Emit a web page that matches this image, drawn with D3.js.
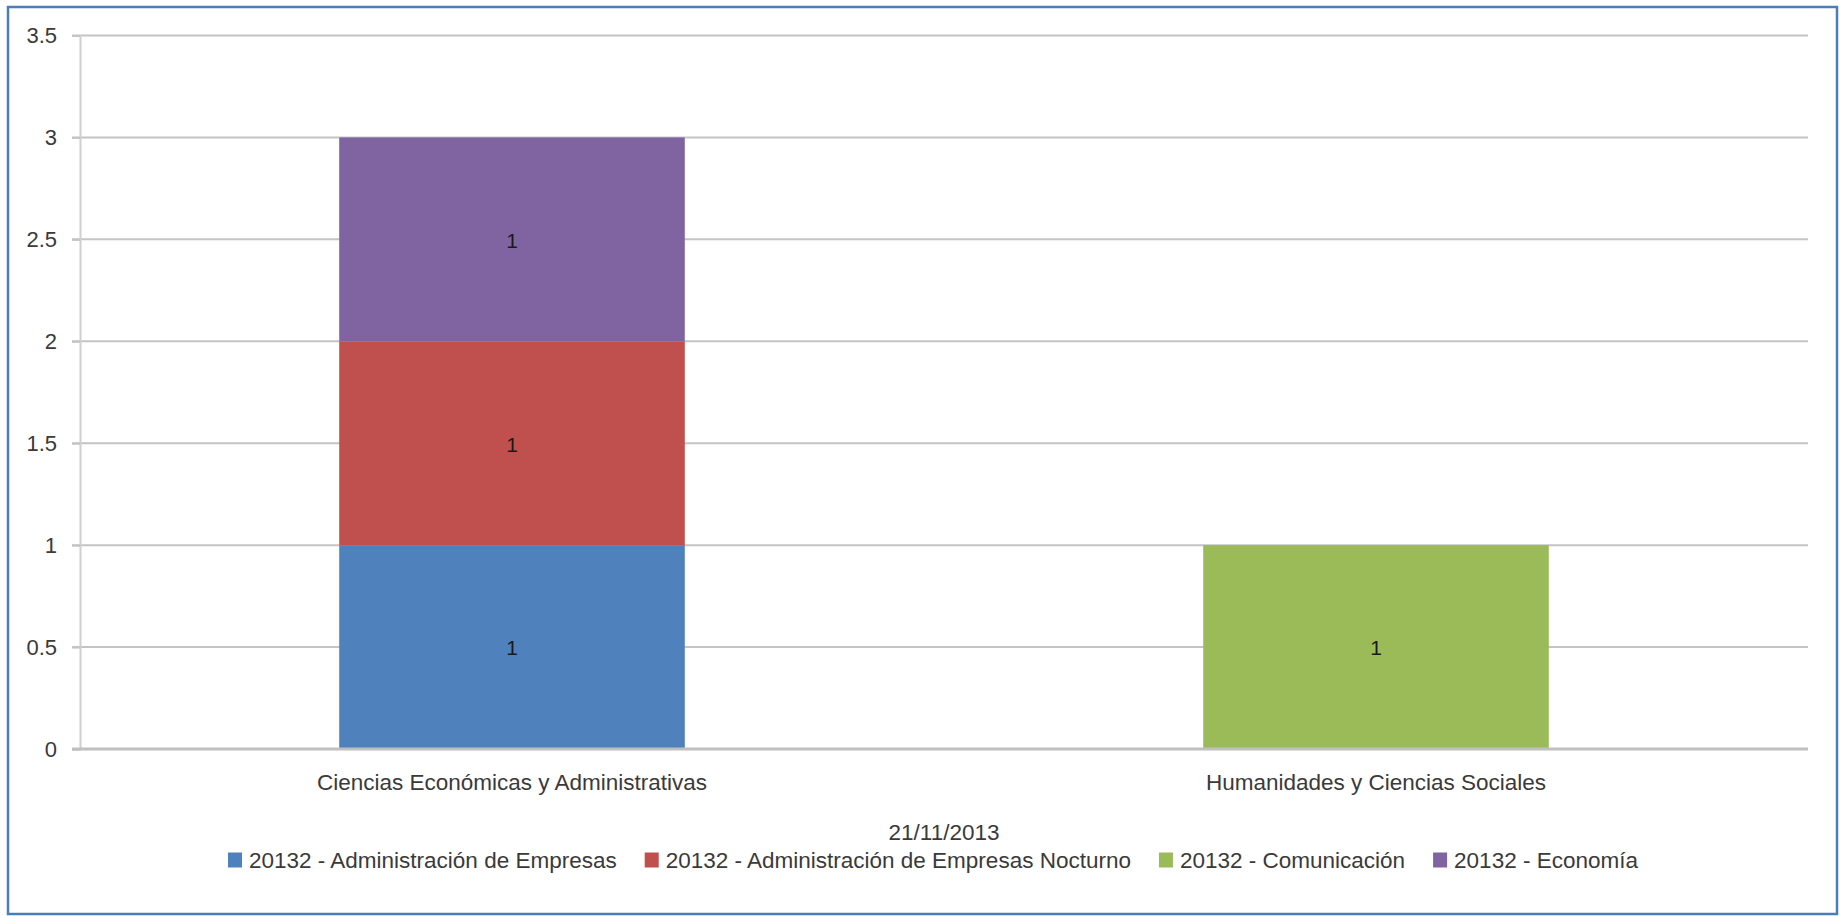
<!DOCTYPE html>
<html>
<head>
<meta charset="utf-8">
<script src="https://cdn.jsdelivr.net/npm/d3@7"></script>
<style>
  body { margin: 0; background: #fff; }
  text { font-family: "Liberation Sans", Arial, sans-serif; }
</style>
</head>
<body>
<div id="chart"></div>
<script>
// datos
const categories = ["Ciencias Económicas y Administrativas", "Humanidades y Ciencias Sociales"];
const seriesNames = [
  "20132 - Administración de Empresas",
  "20132 - Administración de Empresas Nocturno",
  "20132 - Comunicación",
  "20132 - Economía"
];
const adminEmpresas = [1, 0];
const adminNocturno = [1, 0];
const comunicacion = [0, 1];
const economia = [1, 0];
const yTicks = [0, 0.5, 1, 1.5, 2, 2.5, 3, 3.5];
const axisTitle = "21/11/2013";

const colors = ["#4f81bd", "#c0504d", "#9bbb59", "#8064a2"];
const seriesValues = [adminEmpresas, adminNocturno, comunicacion, economia];

// tabla para d3.stack
const table = categories.map((c, i) => {
  const row = { cat: c };
  seriesNames.forEach((s, j) => { row[s] = seriesValues[j][i]; });
  return row;
});

const W = 1843, H = 916;
const margin = { top: 35.5, right: 35, bottom: 167, left: 80 };
const width = W - margin.left - margin.right;
const height = H - margin.top - margin.bottom;
const fs = "22.5px";

const svg = d3.select("#chart").append("svg")
  .attr("width", W)
  .attr("height", H);

// marco exterior
svg.append("rect")
  .attr("x", 8).attr("y", 7)
  .attr("width", 1829).attr("height", 907)
  .attr("fill", "#fff")
  .attr("stroke", "#4a7ebb")
  .attr("stroke-width", 2.5);

const g = svg.append("g")
  .attr("transform", `translate(${margin.left},${margin.top})`);

const x = d3.scaleBand()
  .domain(categories)
  .range([0, width])
  .paddingInner(0.6)
  .paddingOuter(0.3);

const xOuter = d3.scaleBand().domain(categories).range([0, width]);

const y = d3.scaleLinear()
  .domain([0, 3.5])
  .range([height, 0]);

// lineas de cuadricula
g.append("g")
  .selectAll("line")
  .data(yTicks.filter(d => d > 0))
  .enter().append("line")
  .attr("x1", -8).attr("x2", width)
  .attr("y1", d => y(d)).attr("y2", d => y(d))
  .attr("stroke", "#c4c4c4")
  .attr("stroke-width", 2);

// eje Y
const yAxis = g.append("g")
  .call(d3.axisLeft(y).tickValues(yTicks).tickFormat(d => String(d)).tickSize(8).tickPadding(15));
yAxis.select(".domain").attr("stroke", "#cfcfcf").attr("stroke-width", 2);
yAxis.selectAll(".tick line").attr("stroke", "#c4c4c4").attr("stroke-width", 2);
yAxis.selectAll(".tick text")
  .attr("fill", "#3a3a3a")
  .style("font-size", "22px");

// barras apiladas
const stacked = d3.stack().keys(seriesNames)(table);

const layers = g.selectAll(".layer")
  .data(stacked)
  .enter().append("g")
  .attr("class", "layer")
  .attr("fill", (d, i) => colors[i]);

layers.selectAll("rect")
  .data(d => d.filter(p => p[1] - p[0] > 0))
  .enter().append("rect")
  .attr("x", d => x(d.data.cat))
  .attr("y", d => y(d[1]))
  .attr("width", x.bandwidth())
  .attr("height", d => y(d[0]) - y(d[1]));

layers.selectAll("text")
  .data(d => d.filter(p => p[1] - p[0] > 0))
  .enter().append("text")
  .attr("x", d => x(d.data.cat) + x.bandwidth() / 2)
  .attr("y", d => (y(d[0]) + y(d[1])) / 2)
  .attr("dy", "0.4em")
  .attr("text-anchor", "middle")
  .attr("fill", "#1a1a1a")
  .style("font-size", "21px")
  .text(d => d[1] - d[0]);

// linea base
g.append("line")
  .attr("x1", -8).attr("x2", width)
  .attr("y1", y(0)).attr("y2", y(0))
  .attr("stroke", "#c0c0c0")
  .attr("stroke-width", 3);

// etiquetas de categorias
g.selectAll(".cat")
  .data(categories)
  .enter().append("text")
  .attr("class", "cat")
  .attr("x", d => xOuter(d) + xOuter.bandwidth() / 2)
  .attr("y", height + 33)
  .attr("dy", "0.35em")
  .attr("text-anchor", "middle")
  .attr("fill", "#3a3a3a")
  .style("font-size", fs)
  .text(d => d);

// titulo del eje
g.append("text")
  .attr("x", width / 2)
  .attr("y", height + 83)
  .attr("dy", "0.35em")
  .attr("text-anchor", "middle")
  .attr("fill", "#3a3a3a")
  .style("font-size", fs)
  .text(axisTitle);

// leyenda
const legend = svg.append("g");
const legY = 860;
let legX = 228;
seriesNames.forEach((s, i) => {
  legend.append("rect")
    .attr("x", legX).attr("y", legY - 7.5)
    .attr("width", 14).attr("height", 15)
    .attr("fill", colors[i]);
  const t = legend.append("text")
    .attr("x", legX + 21)
    .attr("y", legY)
    .attr("dy", "0.35em")
    .attr("fill", "#3a3a3a")
    .style("font-size", fs)
    .text(s);
  legX += 21 + t.node().getComputedTextLength() + 28;
});
</script>
</body>
</html>
